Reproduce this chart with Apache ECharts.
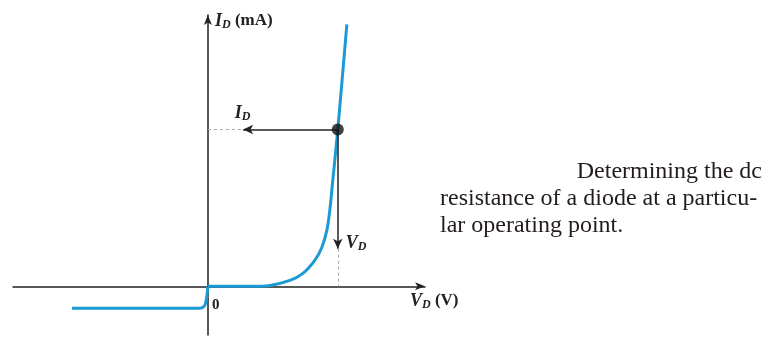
<!DOCTYPE html>
<html>
<head>
<meta charset="utf-8">
<script src="https://cdn.jsdelivr.net/npm/echarts@6/dist/echarts.min.js"></script>
<style>
  html, body { margin: 0; padding: 0; background: #fff; }
  #chart { width: 765px; height: 337px; }
</style>
</head>
<body>
<div id="chart"></div>
<script>
// Diode forward characteristic: voltage (V) and current (mA)
const forwardV = [0, 0.226, 0.334, 0.442, 0.512, 0.576, 0.614, 0.641, 0.657, 0.673, 0.70, 0.749];
const forwardI = [0, 0, 0.06, 0.38, 0.83, 1.66, 2.48, 3.57, 4.84, 6.75, 10, 16.7];
// Reverse-bias region (exaggerated saturation current)
const reverseV = [-0.732, -0.043, -0.016, 0];
const reverseI = [-1.40, -1.40, -1.21, 0];
// Operating point
const opV = 0.70;
const opI = 10;
// Where the arrowheads end along the projection lines
const arrowV = 0.19;
const arrowI = 2.4;
// Caption lines
const caption = ['Determining the dc', 'resistance of a diode at a particu-', 'lar operating point.'];

const curve = forwardV.map((v, i) => [v, forwardI[i]]);
const reverse = reverseV.map((v, i) => [v, reverseI[i]]);

const blue = '#1c9ad6';
const ink = '#222';
const serif = '"Liberation Serif", "DejaVu Serif", serif';

const chart = echarts.init(document.getElementById('chart'), null, { renderer: 'canvas' });

chart.setOption({
  animation: false,
  grid: { left: 13, right: 340, top: 15, bottom: 2, containLabel: false },
  xAxis: {
    type: 'value', min: -1.05, max: 1.17,
    axisLine: { onZero: true, lineStyle: { color: ink, width: 1.5 }, symbol: ['none', 'arrow'], symbolSize: [6, 10] },
    axisTick: { show: false }, axisLabel: { show: false }, splitLine: { show: false }
  },
  yAxis: {
    type: 'value', min: -3.1, max: 17.3,
    axisLine: { onZero: true, lineStyle: { color: ink, width: 1.5 }, symbol: ['none', 'arrow'], symbolSize: [6, 10] },
    axisTick: { show: false }, axisLabel: { show: false }, splitLine: { show: false }
  },
  series: [
    {
      type: 'line', data: reverse, showSymbol: false, smooth: 0.3,
      lineStyle: { color: blue, width: 3 }, z: 3
    },
    {
      type: 'line', data: curve, showSymbol: false, smooth: 0.35,
      lineStyle: { color: blue, width: 3 }, z: 3,
      markLine: {
        silent: true, animation: false, label: { show: false },
        data: [
          [{ coord: [opV, opI], symbol: 'none' }, { coord: [arrowV, opI], symbol: 'arrow', symbolSize: [7, 10] }],
          [{ coord: [opV, opI], symbol: 'none' }, { coord: [opV, arrowI], symbol: 'arrow', symbolSize: [7, 10] }]
        ],
        lineStyle: { color: ink, width: 1.5, type: 'solid' }
      }
    },
    {
      type: 'line', data: [], showSymbol: false,
      markLine: {
        silent: true, animation: false, label: { show: false }, symbol: 'none',
        data: [
          [{ coord: [0, opI] }, { coord: [arrowV, opI] }],
          [{ coord: [opV, arrowI] }, { coord: [opV, 0] }]
        ],
        lineStyle: { color: '#aaa', width: 1, type: [3, 3] }
      }
    },
    {
      type: 'scatter', data: [[opV, opI]], symbolSize: 12,
      itemStyle: { color: '#111' }, z: 5
    }
  ]
});

// Annotation text placed in data coordinates where it labels marks
const idLabel = chart.convertToPixel('grid', [opV, opI]);
const vdLabel = chart.convertToPixel('grid', [opV, arrowI]);

const rich = (size, sub) => ({
  i: { font: 'italic bold ' + size + 'px ' + serif, fill: ink },
  s: { font: 'italic bold ' + sub + 'px ' + serif, fill: ink, padding: [Math.round(size * 0.4), 0, 0, 0] },
  n: { font: 'bold ' + (size - 1) + 'px ' + serif, fill: ink }
});

chart.setOption({
  graphic: [
    {
      type: 'text', left: 215, top: 12,
      style: { text: '{i|I}{s|D}{n| (mA)}', rich: rich(18, 12) }
    },
    {
      type: 'text', left: 410, top: 292,
      style: { text: '{i|V}{s|D}{n| (V)}', rich: rich(18, 12) }
    },
    {
      type: 'text', left: 212, top: 298,
      style: { text: '0', font: 'bold 15px ' + serif, fill: ink }
    },
    {
      type: 'text', x: idLabel[0] - 103, y: idLabel[1] - 26,
      style: { text: '{i|I}{s|D}', rich: rich(18, 12) }
    },
    {
      type: 'text', x: vdLabel[0] + 8, y: vdLabel[1] - 15,
      style: { text: '{i|V}{s|D}', rich: rich(18, 12) }
    },
    {
      type: 'text', right: 3, top: 160,
      style: { text: caption[0], font: '24px ' + serif, fill: '#221c1c', align: 'right' }
    },
    {
      type: 'text', left: 440, top: 187,
      style: { text: caption[1], font: '24px ' + serif, fill: '#221c1c' }
    },
    {
      type: 'text', left: 440, top: 214,
      style: { text: caption[2], font: '24px ' + serif, fill: '#221c1c' }
    }
  ]
});
</script>
</body>
</html>
